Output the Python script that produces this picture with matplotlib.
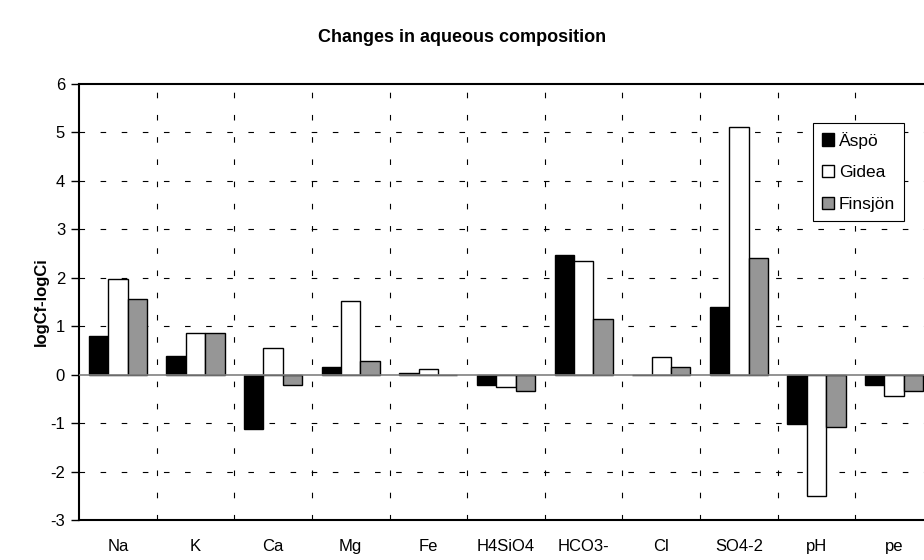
import numpy as np
import matplotlib.pyplot as plt

plt.rcParams['font.family'] = ['Liberation Sans', 'DejaVu Sans']
plt.rcParams['axes.unicode_minus'] = False

categories = ['Na', 'K', 'Ca', 'Mg', 'Fe', 'H4SiO4', 'HCO3-', 'Cl', 'SO4-2', 'pH', 'pe']
aspo = [0.79, 0.38, -1.12, 0.16, 0.04, -0.22, 2.46, 0.0, 1.39, -1.01, -0.22]
gidea = [1.97, 0.85, 0.56, 1.52, 0.11, -0.26, 2.34, 0.37, 5.12, -2.50, -0.45]
finsjon = [1.56, 0.85, -0.22, 0.29, 0.0, -0.33, 1.15, 0.15, 2.41, -1.07, -0.33]

fig = plt.figure(figsize=(9.24, 5.6), dpi=100)
ax = fig.add_axes([79 / 924, 40 / 560, 854 / 924, 436 / 560])

x = np.arange(len(categories))
w = 0.25
ax.bar(x - w, aspo, w, color='black', edgecolor='black', linewidth=1, label='Äspö', zorder=3)
ax.bar(x, gidea, w, color='white', edgecolor='black', linewidth=1, label='Gidea', zorder=3)
ax.bar(x + w, finsjon, w, color='#969696', edgecolor='black', linewidth=1, label='Finsjön', zorder=3)

ax.set_xlim(-0.5, len(categories) - 0.5)
ax.set_ylim(-3, 6)
ax.set_yticks(range(-3, 7))

# dashed grid, vertical lines between categories
for yv in range(-2, 6):
    if yv != 0:
        ax.axhline(yv, color='black', lw=0.8, ls=(0, (5, 14)), zorder=1)
for xb in np.arange(0.5, len(categories) - 0.5, 1):
    ax.axvline(xb, color='black', lw=0.8, ls=(0, (5, 15)), zorder=1)
ax.axhline(0, color='#808080', lw=1.2, zorder=4)

ax.set_xticks(x)
ax.set_xticklabels(categories, fontsize=12)
ax.tick_params(axis='x', length=0, pad=14)
ax.tick_params(axis='y', length=6, width=1, labelsize=12, pad=4)
for s in ax.spines.values():
    s.set_linewidth(1.5)

ax.set_ylabel('logCf-logCi', fontsize=12, fontweight='bold', labelpad=1)
fig.text(0.5, 1 - 37 / 560, 'Changes in aqueous composition', ha='center', va='center',
         fontsize=13, fontweight='bold')

leg = ax.legend(loc='upper left', bbox_to_anchor=((813 - 79) / 854, (520 - 123) / 436),
                borderaxespad=0, fontsize=12.5, fancybox=False, edgecolor='black',
                handlelength=0.7, handleheight=0.7, handletextpad=0.3, labelspacing=0.95,
                borderpad=0.5, framealpha=1)
leg.get_frame().set_linewidth(0.8)

fig.savefig('out.png', dpi=100)
